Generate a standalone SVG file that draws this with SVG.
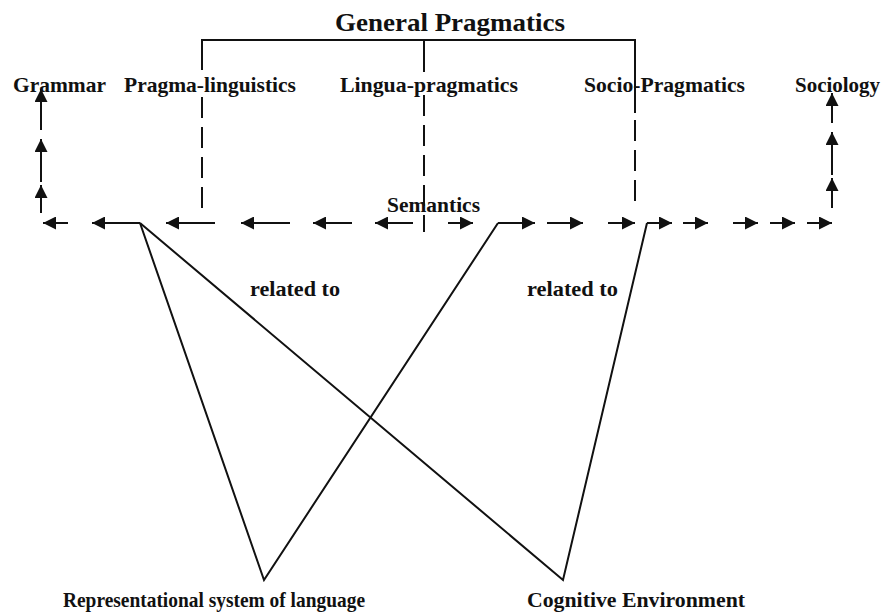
<svg xmlns="http://www.w3.org/2000/svg" width="882" height="612" viewBox="0 0 882 612">
<style>
.t{font-family:"Liberation Serif","Times New Roman",serif;font-weight:bold;fill:#111;}
.top{font-size:21.5px;}
.ln{stroke:#111;stroke-width:2;fill:none;}
.ar{stroke:#111;stroke-width:2;fill:none;marker-end:url(#ah);}
.dash{stroke:#111;stroke-width:2;fill:none;stroke-dasharray:21 9;}
</style>
<defs>
<marker id="ah" markerUnits="userSpaceOnUse" markerWidth="15" markerHeight="13" refX="13" refY="6.5" orient="auto">
<path d="M0,0 L13,6.5 L0,13 Z" fill="#111"/>
</marker>
</defs>
<rect width="882" height="612" fill="#fff"/>
<g id="connectors">
<polyline class="ln" points="202,70 202,40 635,40 635,113"/>
<line class="ln" x1="424" y1="40" x2="424" y2="72"/>
<line class="dash" x1="202" y1="97" x2="202" y2="208"/>
<line class="dash" x1="424" y1="95" x2="424" y2="232"/>
<line class="dash" x1="635" y1="120" x2="635" y2="210"/>
<line class="ar" x1="68" y1="223" x2="43" y2="223"/>
<line class="ar" x1="140" y1="223" x2="92" y2="223"/>
<line class="ar" x1="215" y1="223" x2="166" y2="223"/>
<line class="ar" x1="290" y1="223" x2="241" y2="223"/>
<line class="ar" x1="352" y1="223" x2="313" y2="223"/>
<line class="ar" x1="413" y1="223" x2="375" y2="223"/>
<line class="ar" x1="448" y1="223" x2="473" y2="223"/>
<line class="ar" x1="498" y1="223" x2="535" y2="223"/>
<line class="ar" x1="547" y1="223" x2="583" y2="223"/>
<line class="ar" x1="608" y1="223" x2="635" y2="223"/>
<line class="ar" x1="647" y1="223" x2="672" y2="223"/>
<line class="ar" x1="683" y1="223" x2="708" y2="223"/>
<line class="ar" x1="733" y1="223" x2="758" y2="223"/>
<line class="ar" x1="770" y1="223" x2="795" y2="223"/>
<line class="ar" x1="807" y1="223" x2="832" y2="223"/>
<line class="ar" x1="41" y1="213" x2="41" y2="185"/>
<line class="ar" x1="41" y1="182" x2="41" y2="139"/>
<line class="ar" x1="41" y1="130" x2="41" y2="89"/>
<line class="ar" x1="832" y1="208" x2="832" y2="178"/>
<line class="ar" x1="832" y1="175" x2="832" y2="132"/>
<line class="ar" x1="832" y1="123" x2="832" y2="93"/>
<polyline class="ln" points="140,223 264,580 498,223"/>
<polyline class="ln" points="140,223 563,580 647,223"/>
</g>
<g id="general-pragmatics"><text class="t" x="335" y="31" font-size="26" textLength="230" lengthAdjust="spacingAndGlyphs">General Pragmatics</text></g>
<g id="grammar"><text class="t top" x="13" y="92" textLength="93" lengthAdjust="spacingAndGlyphs">Grammar</text></g>
<g id="pragma-linguistics"><text class="t top" x="124" y="92" textLength="172" lengthAdjust="spacingAndGlyphs">Pragma-linguistics</text></g>
<g id="lingua-pragmatics"><text class="t top" x="340" y="92" textLength="178" lengthAdjust="spacingAndGlyphs">Lingua-pragmatics</text></g>
<g id="socio-pragmatics"><text class="t top" x="584" y="92" textLength="161" lengthAdjust="spacingAndGlyphs">Socio-Pragmatics</text></g>
<g id="sociology"><text class="t top" x="795" y="92" textLength="85" lengthAdjust="spacingAndGlyphs">Sociology</text></g>
<g id="semantics"><text class="t top" x="387" y="212" textLength="93" lengthAdjust="spacingAndGlyphs">Semantics</text></g>
<g id="related-to-1"><text class="t" x="250" y="296" font-size="21" textLength="90" lengthAdjust="spacingAndGlyphs">related to</text></g>
<g id="related-to-2"><text class="t" x="527" y="296" font-size="21" textLength="91" lengthAdjust="spacingAndGlyphs">related to</text></g>
<g id="representational"><text class="t" x="63" y="607" font-size="22" textLength="302" lengthAdjust="spacingAndGlyphs">Representational system of language</text></g>
<g id="cognitive"><text class="t" x="527" y="607" font-size="22" textLength="218" lengthAdjust="spacingAndGlyphs">Cognitive Environment</text></g>
</svg>
